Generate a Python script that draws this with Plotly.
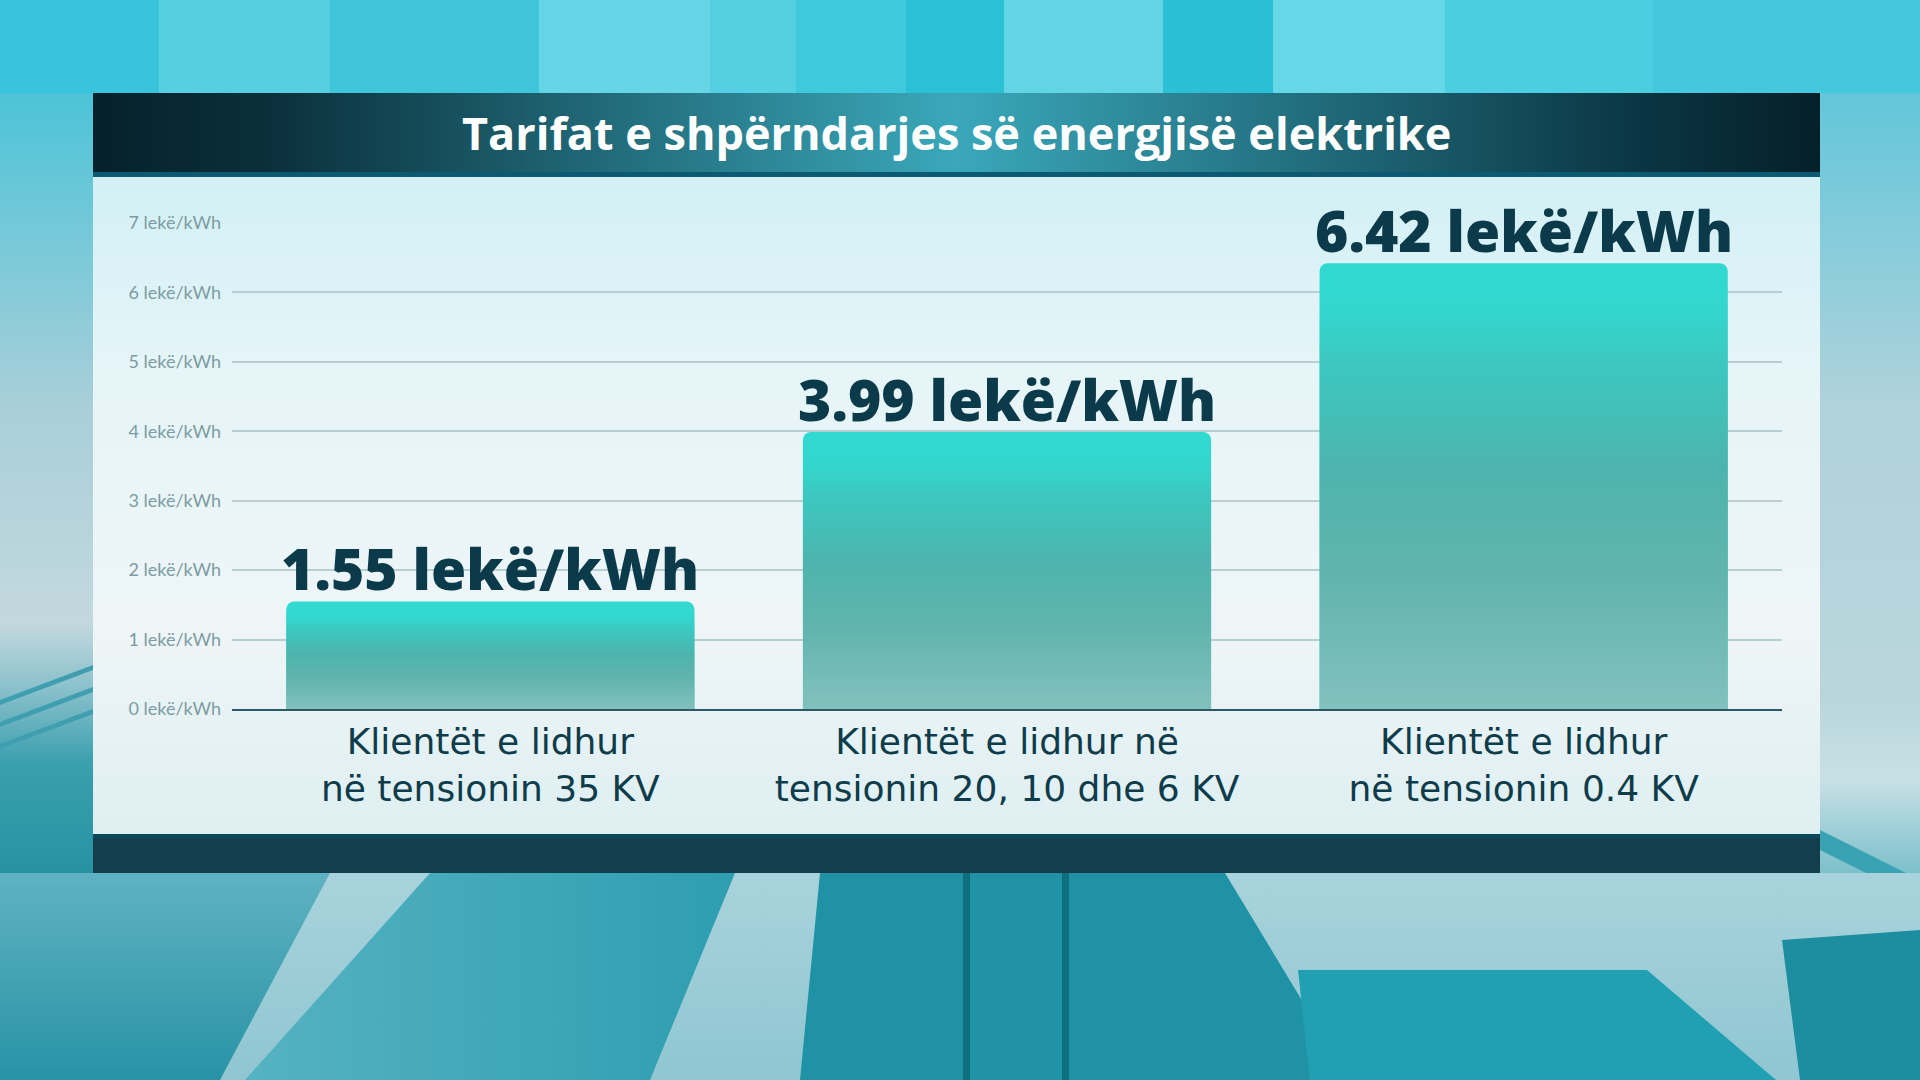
import plotly.graph_objects as go

# ---------------- data ----------------
categories = [
    "Klientët e lidhur<br>në tensionin 35 KV",
    "Klientët e lidhur në<br>tensionin 20, 10 dhe 6 KV",
    "Klientët e lidhur<br>në tensionin 0.4 KV",
]
values = [1.55, 3.99, 6.42]
value_labels = ["1.55 lekë/kWh", "3.99 lekë/kWh", "6.42 lekë/kWh"]
y_tick_values = [0, 1, 2, 3, 4, 5, 6, 7]
y_tick_labels = [f"{t} lekë/kWh" for t in y_tick_values]
title_text = "Tarifat e shpërndarjes së energjisë elektrike"

W, H = 1920, 1080
fig = go.Figure()


def poly(xs, ys, color=None, grad=None):
    fig.add_trace(go.Scatter(
        x=list(xs) + [xs[0]], y=list(ys) + [ys[0]], mode="lines",
        line=dict(width=0), fill="toself",
        fillcolor=color, fillgradient=grad,
        hoverinfo="skip", showlegend=False, xaxis="x", yaxis="y"))


def rect(x0, y0, x1, y1, color=None, grad=None):
    poly([x0, x1, x1, x0], [y0, y0, y1, y1], color, grad)


def vgrad(y0, y1, stops):
    return dict(type="vertical", start=y0, stop=y1, colorscale=stops)


def hgrad(x0, x1, stops):
    return dict(type="horizontal", start=x0, stop=x1, colorscale=stops)


# ---------------- decorative background (pixel space) ----------------
rect(0, 0, W, H, grad=vgrad(0, H, [[0, "#3cc6dc"], [0.12, "#4ec9dd"], [0.37, "#a2d0db"],
                                   [0.6, "#c6dce2"], [0.8, "#a9d0d9"], [1, "#5fb3c2"]]))
# top streaks
streaks = [(0, 159, "#38c4da"), (159, 330, "#58cee1"), (330, 539, "#40c6db"), (539, 710, "#66d6e6"),
           (710, 796, "#55d0e2"), (796, 906, "#3fc9dd"), (906, 1004, "#2cc0d6"), (1004, 1163, "#62d5e5"),
           (1163, 1273, "#2bbfd5"), (1273, 1445, "#65d7e6"), (1445, 1653, "#4ccde0"), (1653, 1920, "#45c8dd")]
for a, b, c in streaks:
    rect(a, 0, b, 100, c)
# left strip
rect(0, 93, 93, 873, grad=vgrad(93, 873, [[0, "#4cc3d8"], [0.4, "#a8cfd9"], [0.68, "#c3d8de"],
                                          [0.76, "#8cc2cc"], [0.86, "#3a9fae"], [1, "#2892a2"]]))
for k in range(3):
    poly([0, 93, 93, 0], [700 + k * 22, 665 + k * 22, 670 + k * 22, 705 + k * 22], "#3f9fb0")
# right strip
rect(1820, 93, W, 873, grad=vgrad(93, 873, [[0, "#62c6da"], [0.4, "#b0d2db"], [0.78, "#b9d6dc"],
                                            [0.88, "#c8e0e5"], [1, "#7cc0cc"]]))
poly([1820, W, W, 1820], [830, 880, 900, 850], "#3aa3b3")
# bottom scene
rect(0, 873, W, H, grad=vgrad(873, H, [[0, "#a9d3dc"], [1, "#8fc6d1"]]))
poly([0, 330, 220, 0], [873, 873, H, H], grad=vgrad(873, H, [[0, "#5fb2c1"], [1, "#2893a6"]]))
poly([430, 735, 650, 245], [873, 873, H, H], grad=hgrad(245, 735, [[0, "#55b2c2"], [1, "#2e9eb0"]]))
poly([820, 1225, 1350, 800], [873, 873, H, H], "#1f93a5")
rect(963, 873, 970, H, "#0d6e80")
rect(1062, 873, 1069, H, "#0d6e80")
poly([1298, 1647, 1776, 1310], [970, 970, H, H], "#22a0b3")
poly([1782, W, W, 1800], [940, 930, H, H], "#1d8ea0")

# ---------------- panel ----------------
rect(93, 176, 1820, 834, grad=vgrad(176, 834, [[0, "#d2f0f5"], [0.3, "#e6f5f8"],
                                               [0.7, "#eef5f7"], [1, "#deeff2"]]))
rect(93, 93, 1820, 173, grad=hgrad(93, 1820, [[0, "#05212b"], [0.1, "#0a2f3b"], [0.5, "#3aa8ba"],
                                              [0.9, "#0a3442"], [1, "#052029"]]))
rect(93, 172, 1820, 177, "#0b5a72")
rect(93, 834, 1820, 873, "#143e4c")
rect(93, 834, 1820, 838, "#0a4a5e")

# ---------------- chart ----------------
xs = list(range(len(values)))
bar_w = 0.79
fig.add_trace(go.Bar(
    x=xs, y=values, width=bar_w, marker=dict(color="#31d9d0", cornerradius=8, line=dict(width=0)),
    hoverinfo="skip", showlegend=False, xaxis="x2", yaxis="y2"))

corner = 8 / 69.43
for i, v in zip(xs, values):
    top = v - corner
    fig.add_trace(go.Scatter(
        x=[i - bar_w / 2, i + bar_w / 2, i + bar_w / 2, i - bar_w / 2, i - bar_w / 2],
        y=[0, 0, top, top, 0], mode="lines", line=dict(width=0), fill="toself",
        fillgradient=dict(type="vertical", start=0, stop=top, colorscale=[
            [0, "rgba(130,193,189,1)"], [0.3, "rgba(98,180,174,1)"], [0.55, "rgba(77,180,173,1)"],
            [0.8, "rgba(62,196,188,0.8)"], [1, "rgba(49,217,208,0)"]]),
        hoverinfo="skip", showlegend=False, xaxis="x2", yaxis="y2"))

for i, v, lab in zip(xs, values, value_labels):
    fig.add_annotation(x=i, y=v, xref="x2", yref="y2", text=lab, showarrow=False,
                       yanchor="bottom", yshift=-8,
                       font=dict(family="Open Sans", size=57, weight=800, color="#0b3a4b"))

fig.add_annotation(x=956.5 / W, y=1 - 132 / H, xref="paper", yref="paper", text=title_text,
                   showarrow=False, xanchor="center", yanchor="middle",
                   font=dict(family="Open Sans", size=45, weight=700, color="#ffffff"))

fig.update_layout(
    width=W, height=H, autosize=False,
    margin=dict(l=0, r=0, t=0, b=0, pad=0, autoexpand=False),
    paper_bgcolor="#3cc6dc", plot_bgcolor="rgba(0,0,0,0)",
    xaxis=dict(domain=[0, 1], range=[0, W], visible=False, fixedrange=True, automargin=False),
    yaxis=dict(domain=[0, 1], range=[H, 0], visible=False, fixedrange=True, automargin=False),
    xaxis2=dict(domain=[232 / W, 1782 / W], range=[-0.5, 2.5], anchor="y2",
                tickvals=xs, ticktext=categories, showgrid=False, zeroline=False,
                showline=True, linecolor="#2d5866", linewidth=2, ticks="", automargin=False,
                tickfont=dict(family="DejaVu Sans", size=36, color="#0f3c4a"), fixedrange=True),
    yaxis2=dict(domain=[1 - 709 / H, 1 - 223 / H], range=[0, 7], anchor="x2",
                tickvals=y_tick_values, ticktext=y_tick_labels, showgrid=True,
                gridcolor="#b9ced3", gridwidth=1.5, zeroline=False, showline=False,
                ticks="", ticklabelstandoff=10, automargin=False,
                tickfont=dict(family="Lato", size=18, color="#7c9ca4"), fixedrange=True),
    bargap=0.2,
)

fig.write_html("out.html", config={"displayModeBar": False},
               post_script="document.body.style.margin='0';document.body.style.overflow='hidden';")
